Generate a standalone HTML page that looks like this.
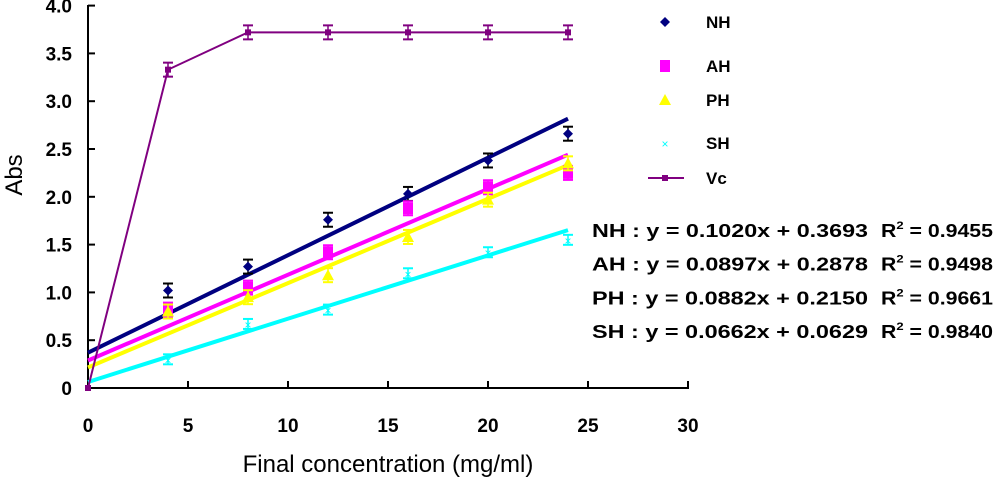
<!DOCTYPE html>
<html><head><meta charset="utf-8"><style>
body{margin:0;background:#fff;width:1000px;height:478px;overflow:hidden}
svg text{font-family:"Liberation Sans",Arial,sans-serif}
</style></head><body>
<svg id="c" width="1000" height="478"></svg>
<script>
const xs=[0,4,8,12,16,20,24];
const nh=[null,1.02,1.27,1.76,2.03,2.38,2.66];
const ah=[null,0.82,1.05,1.42,1.88,2.10,2.25];
const ph=[null,0.80,0.95,1.18,1.58,1.97,2.35];
const sh=[null,0.30,0.67,0.82,1.20,1.42,1.55];
const vc=[0,3.33,3.72,3.72,3.72,3.72,3.72];
const slopes=[0.1020,0.0897,0.0882,0.0662];
const icpts=[0.3693,0.2878,0.2150,0.0629];
const xTicks=[0,5,10,15,20,25,30];
const yTicks=[0,0.5,1.0,1.5,2.0,2.5,3.0,3.5,4.0];
const yLabels=["0","0.5","1.0","1.5","2.0","2.5","3.0","3.5","4.0"];
const eqs=["NH : y = 0.1020x + 0.3693","AH : y = 0.0897x + 0.2878","PH : y = 0.0882x + 0.2150","SH : y = 0.0662x + 0.0629"];
const r2=["0.9455","0.9498","0.9661","0.9840"];
const NS="http://www.w3.org/2000/svg",svg=document.getElementById('c');
const X=v=>88+v*20, Y=v=>388-v*95.6;
function el(t,a,p){const e=document.createElementNS(NS,t);for(const k in a)e.setAttribute(k,a[k]);(p||svg).appendChild(e);return e;}
let ax=el('line',{x1:88,y1:5,x2:88,y2:389,stroke:'#000','stroke-width':2});

let bx=el('line',{x1:87,y1:388,x2:689,y2:388,stroke:'#000','stroke-width':2});

yTicks.forEach((v,i)=>{el('line',{x1:88,y1:Y(v),x2:95,y2:Y(v),stroke:'#000','stroke-width':2});
 const t=el('text',{x:72,y:Y(v)+7,'text-anchor':'end','font-size':19,'font-weight':'bold'});t.textContent=yLabels[i];
 });
xTicks.forEach(v=>{el('line',{x1:X(v),y1:388,x2:X(v),y2:381,stroke:'#000','stroke-width':2});
 const t=el('text',{x:X(v),y:432,'text-anchor':'middle','font-size':19,'font-weight':'bold'});t.textContent=v;
 });
let yt=el('text',{transform:'translate(22,175) rotate(-90)','text-anchor':'middle','font-size':24});yt.textContent='Abs';

let xt=el('text',{x:388,y:472,'text-anchor':'middle','font-size':24});xt.textContent='Final concentration (mg/ml)';

const cols=['#000080','#ff00ff','#ffff00','#00ffff'];
const sets=[nh,ah,ph,sh];const names=['nh','ah','ph','sh'];
slopes.forEach((s,i)=>{const l=el('line',{x1:X(0),y1:Y(icpts[i]),x2:X(24),y2:Y(icpts[i]+s*24),stroke:cols[i],'stroke-width':4});
 });
function err(x,y,c,h){h=h||7;el('line',{x1:x,y1:y-h,x2:x,y2:y+h,stroke:c,'stroke-width':1.5});el('line',{x1:x-5,y1:y-h,x2:x+5,y2:y-h,stroke:c,'stroke-width':2});el('line',{x1:x-5,y1:y+h,x2:x+5,y2:y+h,stroke:c,'stroke-width':2});}
function marker(i,x,y){const c=cols[i];let m;
 if(i==0)m=el('polygon',{points:`${x},${y-5} ${x+5},${y} ${x},${y+5} ${x-5},${y}`,fill:c});
 else if(i==1)m=el('rect',{x:x-5,y:y-6,width:10,height:12,fill:c});
 else if(i==2)m=el('polygon',{points:`${x},${y-6} ${x+6},${y+5} ${x-6},${y+5}`,fill:c});
 else m=el('text',{x:x,y:y+5,'text-anchor':'middle','font-size':12,fill:c});
 if(i==3)m.textContent='×';return m;}
sets.forEach((d,i)=>{d.forEach((v,j)=>{if(v==null)return;const x=X(xs[j]),y=Y(v);
 err(x,y,i==0?'#000':cols[i],i==3?5:7);const m=marker(i,x,y);
 });});
const vp=el('polyline',{points:xs.map((x,j)=>X(x)+','+Y(vc[j])).join(' '),fill:'none',stroke:'#800080','stroke-width':2});

vc.forEach((v,j)=>{const x=X(xs[j]),y=Y(v);if(j>0)err(x,y,'#800080');
 const m=el('rect',{x:x-3,y:y-3,width:6,height:6,fill:'#800080'});});
const ly=[22,66,100,143,178],ln=['NH','AH','PH','SH','Vc'];
ln.forEach((n,i)=>{const g=el('g',{});
 if(i<4){const m=marker(i,665,ly[i]);g.appendChild(m);}else{el('line',{x1:648,y1:ly[i],x2:684,y2:ly[i],stroke:'#800080','stroke-width':2},g);el('rect',{x:662,y:ly[i]-3,width:6,height:6,fill:'#800080'},g);}
 const t=el('text',{x:706,y:ly[i]+6,'font-size':17,'font-weight':'bold'},g);t.textContent=n;});
eqs.forEach((e,i)=>{const y=237+i*33.7;
 const t=el('text',{x:592,y:y,'font-size':18,'font-weight':'bold',textLength:276,lengthAdjust:'spacingAndGlyphs'});t.textContent=e;
 const r=el('text',{x:881,y:y,'font-size':18,'font-weight':'bold',textLength:112,lengthAdjust:'spacingAndGlyphs'});r.innerHTML='R<tspan dy="-8" font-size="11">2</tspan><tspan dy="8"> = '+r2[i]+'</tspan>';
 });
</script>
</body></html>
